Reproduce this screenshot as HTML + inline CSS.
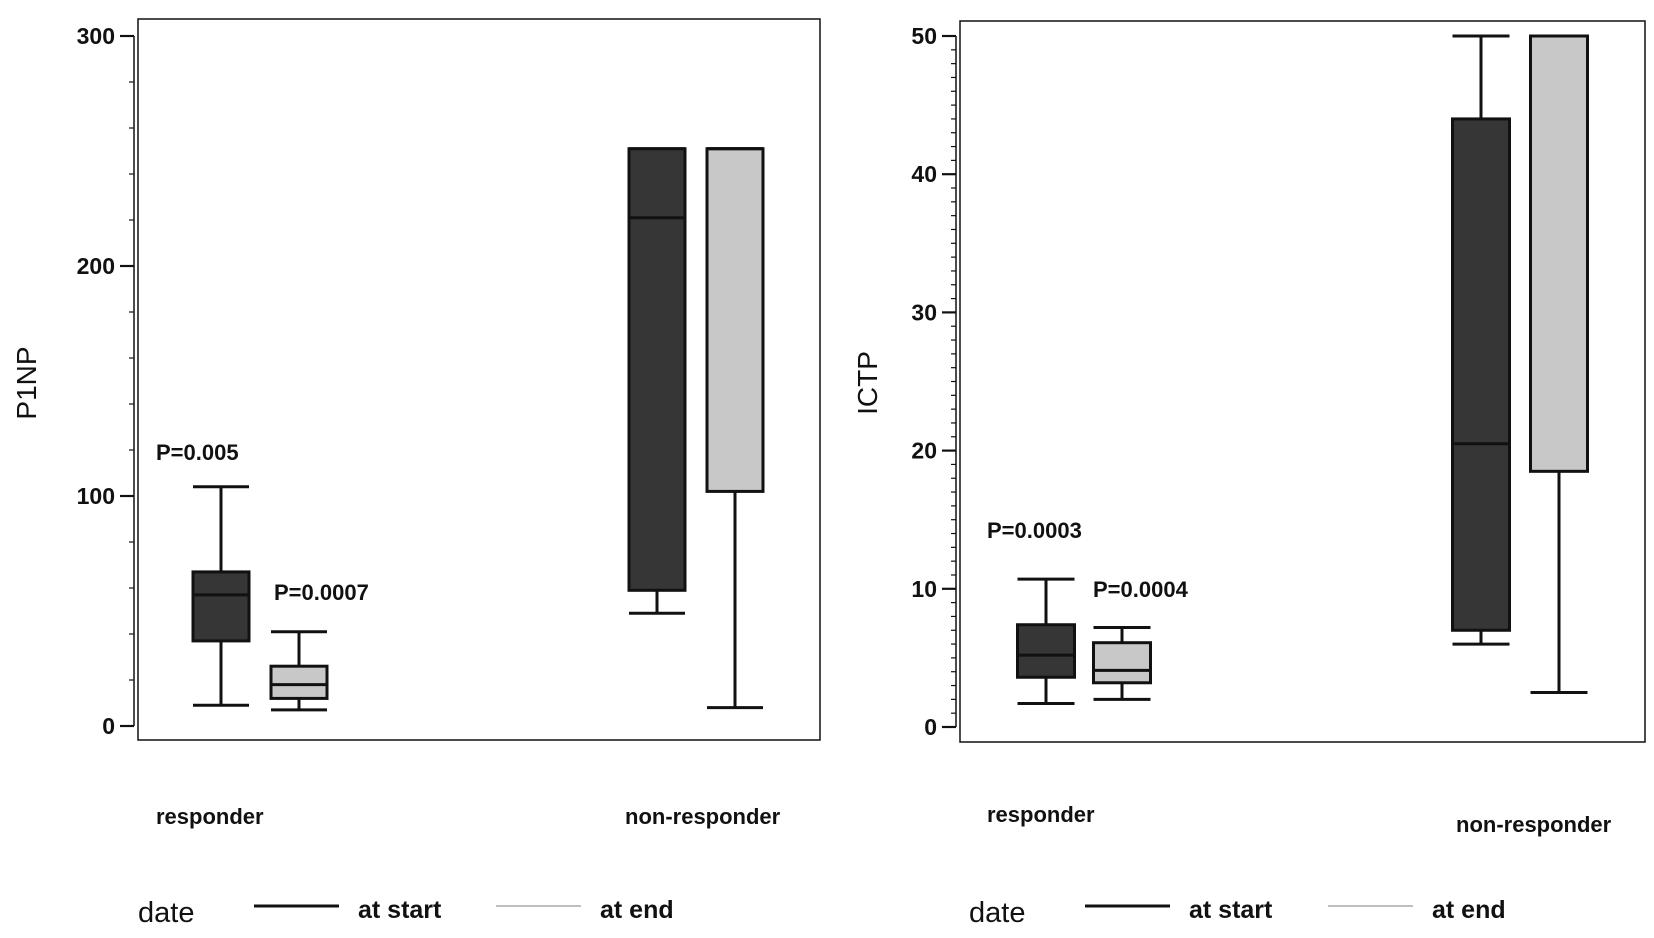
<!DOCTYPE html>
<html><head><meta charset="utf-8"><style>
html,body{margin:0;padding:0;background:#fff;}
svg{display:block;font-family:"Liberation Sans",Arial,sans-serif;}
</style></head><body>
<svg id="c" width="1654" height="938" viewBox="0 0 1654 938"></svg>
<script>
// ---- data ----
const categories = ["responder","non-responder"];
const seriesNames = ["at start","at end"];
// P1NP panel: [min, q1, median, q3, max]
const p1npStart = [[9,37,57,67,104],[49,59,221,251,251]];
const p1npEnd = [[7,12,18,26,41],[8,102,251,251,251]];
const p1npTicks = [0,100,200,300];
const p1npPvals = ["P=0.005","P=0.0007"];
// ICTP panel
const ictpStart = [[1.7,3.6,5.2,7.4,10.7],[6,7,20.5,44,50]];
const ictpEnd = [[2,3.2,4.1,6.1,7.2],[2.5,18.5,50,50,50]];
const ictpTicks = [0,10,20,30,40,50];
const ictpPvals = ["P=0.0003","P=0.0004"];

const NS="http://www.w3.org/2000/svg";
const svg=document.getElementById('c');
function mk(tag,attrs,parent){const e=document.createElementNS(NS,tag);for(const k in attrs)e.setAttribute(k,attrs[k]);(parent||svg).appendChild(e);return e;}

function panel(cfg){
  const g=mk('g',{});
  
  
  const y=v=>cfg.y0-(v-cfg.vmin)/(cfg.vmax-cfg.vmin)*(cfg.y0-cfg.y1);
  const fr=mk('rect',{x:cfg.fx,y:cfg.ft,width:cfg.fw,height:cfg.fb-cfg.ft,fill:'none',stroke:'#111','stroke-width':1.5},g);
  
  const ax=mk('line',{x1:cfg.ax,x2:cfg.ax,y1:y(cfg.vmin),y2:y(cfg.vmax),stroke:'#111','stroke-width':1.5},g);
  
  for(let v=cfg.vmin;v<=cfg.vmax+1e-9;v+=cfg.minor){
    const isMaj=cfg.ticks.some(t=>Math.abs(t-v)<1e-6);
    const t=mk('line',{x1:cfg.ax-(isMaj?14:5),x2:cfg.ax,y1:y(v),y2:y(v),stroke:'#111','stroke-width':isMaj?2.2:1.2},g);
    
    
  }
  cfg.ticks.forEach(v=>{
    const t=mk('text',{x:cfg.ax-19,y:y(v)+8,'text-anchor':'end','font-size':23,'font-weight':'bold',fill:'#111'},g);
    t.textContent=v;
    
  });
  const yt=mk('text',{x:0,y:0,transform:`translate(${cfg.tx},${cfg.ty}) rotate(-90)`,'text-anchor':'middle','font-size':28,fill:'#111'},g);
  yt.textContent=cfg.title;
  
  const series=[cfg.start,cfg.end],fills=['#363636','#c8c8c8'];
  series.forEach((s,si)=>s.forEach((d,ci)=>{
    const cx=cfg.cx[ci][si],w=cfg.bw,h=w/2;
    const bg=mk('g',{},g);
    
    
    const ln=(x1,y1,x2,y2)=>mk('line',{x1,y1,x2,y2,stroke:'#111','stroke-width':3},bg);
    ln(cx,y(d[0]),cx,y(d[4]));
    ln(cx-h,y(d[0]),cx+h,y(d[0]));ln(cx-h,y(d[4]),cx+h,y(d[4]));
    mk('rect',{x:cx-h,y:y(d[3]),width:w,height:y(d[1])-y(d[3]),fill:fills[si],stroke:'#111','stroke-width':3},bg);
    ln(cx-h,y(d[2]),cx+h,y(d[2]));
  }));
  cfg.pvals.forEach((p,i)=>{
    const t=mk('text',{x:cfg.px[i],y:cfg.py[i],'font-size':22,'font-weight':'bold',fill:'#111'},g);
    t.textContent=p;
  });
  categories.forEach((c,i)=>{
    const t=mk('text',{x:cfg.lx[i],y:cfg.ly[i],'font-size':22,'font-weight':'bold',fill:'#111'},g);
    t.textContent=c;
  });
  const lg=mk('g',{},g);
  const d=mk('text',{x:cfg.lgx,y:922,'font-size':29,fill:'#111'},lg);d.textContent='date';
  
  const ls=['#111','#aaa'],lw=[3,1.5];
  seriesNames.forEach((n,i)=>{
    const x0=cfg.lgl[i];
    const l=mk('line',{x1:x0,x2:x0+85,y1:906,y2:906,stroke:ls[i],'stroke-width':lw[i]},lg);
    
    const t=mk('text',{x:x0+104,y:918,'font-size':25,'font-weight':'bold',fill:'#111'},lg);t.textContent=n;
    
  });
}
panel({name:'p1np-panel',vmin:0,vmax:300,y0:726,y1:36,fx:138,ft:19,fw:682,fb:740,ax:134,minor:20,
  ticks:p1npTicks,title:'P1NP',tx:36,ty:383,start:p1npStart,end:p1npEnd,cx:[[221,299],[657,735]],bw:56,
  pvals:p1npPvals,px:[156,274],py:[460,600],lx:[156,625],ly:[824,824],lgx:138,lgl:[254,496]});
panel({name:'ictp-panel',vmin:0,vmax:50,y0:727,y1:36,fx:960,ft:21,fw:685,fb:742,ax:956,minor:1,
  ticks:ictpTicks,title:'ICTP',tx:877,ty:383,start:ictpStart,end:ictpEnd,cx:[[1046,1122],[1481,1559]],bw:57,
  pvals:ictpPvals,px:[987,1093],py:[538,597],lx:[987,1456],ly:[822,832],lgx:969,lgl:[1085,1328]});
</script>
</body></html>
